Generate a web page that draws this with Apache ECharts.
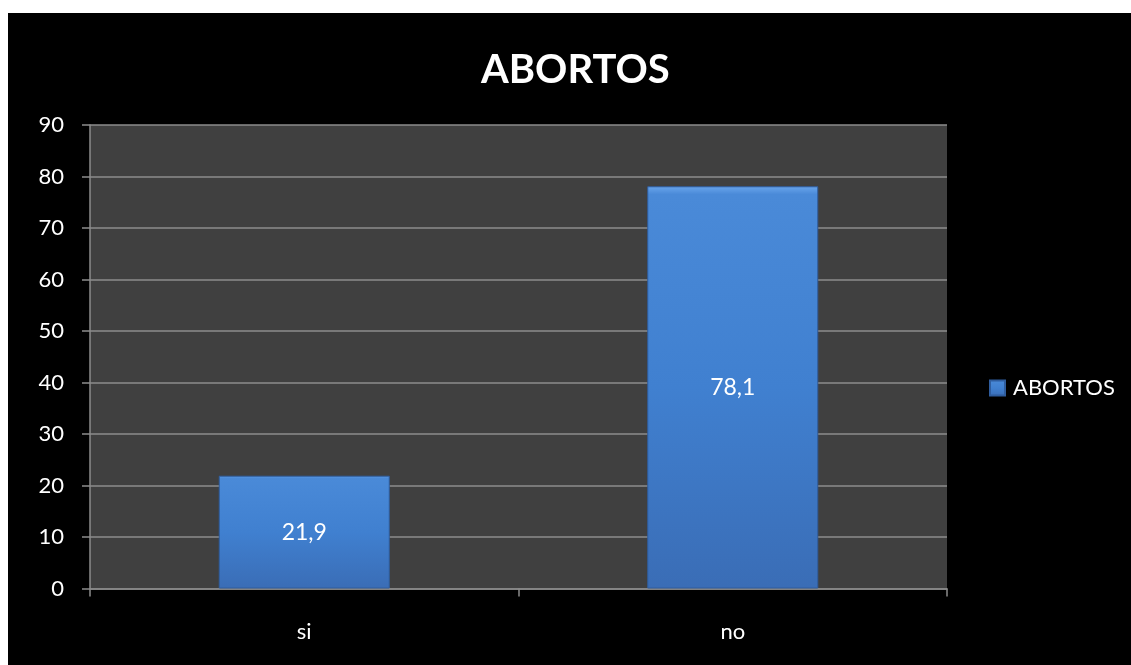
<!DOCTYPE html>
<html>
<head>
<meta charset="utf-8">
<script src="https://cdn.jsdelivr.net/npm/echarts@6/dist/echarts.min.js"></script>
<style>
html,body{margin:0;padding:0;background:#ffffff;width:1131px;height:665px;overflow:hidden;}
#chart{position:absolute;left:8px;top:13px;width:1123px;height:652px;background:#000;}
</style>
</head>
<body>
<div id="chart"></div>
<script>
var titleText = 'ABORTOS';
var seriesName = 'ABORTOS';
var categories = ['si', 'no'];
var values = [21.9, 78.1];

var chart = echarts.init(document.getElementById('chart'));
var font = 'Lato, "Open Sans", sans-serif';
chart.setOption({
  backgroundColor: '#000000',
  animation: false,
  textStyle: { fontFamily: font },
  title: {
    text: titleText,
    left: 468,
    top: 32,
    textStyle: { color: '#ffffff', fontSize: 40, fontWeight: 'bold', fontFamily: font }
  },
  legend: {
    data: [seriesName],
    left: 976,
    top: 359,
    itemWidth: 15,
    itemHeight: 15,
    itemGap: 8,
    icon: 'rect',
    textStyle: { color: '#ffffff', fontSize: 22, fontFamily: font, padding: [0, 0, 0, 3] }
  },
  grid: {
    left: 82, right: 184, top: 112, bottom: 76.5,
    show: true, backgroundColor: '#404040', borderWidth: 0
  },
  xAxis: {
    type: 'category',
    data: categories,
    axisLine: { lineStyle: { color: '#8c8c8c', width: 1.5 } },
    axisTick: { show: true, length: 8, lineStyle: { color: '#8c8c8c', width: 1.5 } },
    axisLabel: { color: '#ffffff', fontSize: 22, margin: 32, fontFamily: font }
  },
  yAxis: {
    type: 'value',
    min: 0, max: 90, interval: 10,
    axisLine: { show: true, lineStyle: { color: '#8c8c8c', width: 1.5 } },
    axisTick: { show: true, length: 8, lineStyle: { color: '#8c8c8c', width: 1.5 } },
    splitLine: { show: true, lineStyle: { color: '#8c8c8c', width: 1.5 } },
    axisLabel: { color: '#ffffff', fontSize: 22, margin: 26, fontFamily: font }
  },
  series: [{
    name: seriesName,
    type: 'bar',
    data: values,
    barWidth: 171,
    itemStyle: {
      color: new echarts.graphic.LinearGradient(0, 0, 0, 1, [
        { offset: 0, color: '#6aa6ec' },
        { offset: 0.02, color: '#4a8ad8' },
        { offset: 0.5, color: '#4080d0' },
        { offset: 1, color: '#3a6db6' }
      ]),
      borderColor: '#2f5d9e',
      borderWidth: 1
    },
    label: {
      show: true,
      position: 'inside',
      color: '#ffffff',
      fontSize: 23,
      fontFamily: font,
      formatter: function (p) { return String(p.value).replace('.', ','); }
    }
  }]
});
</script>
</body>
</html>
